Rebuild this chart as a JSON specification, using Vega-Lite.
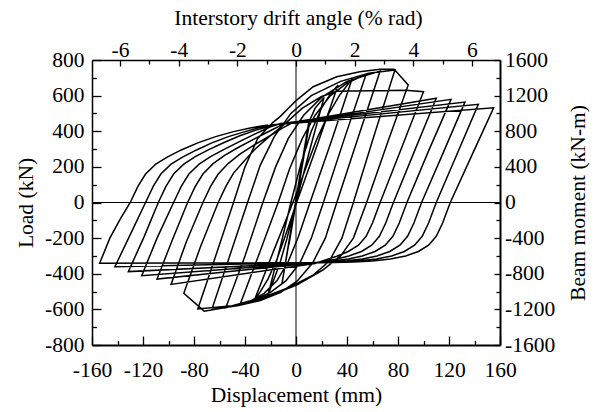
{
  "$schema": "https://vega.github.io/schema/vega-lite/v6.json",
  "width": 408,
  "height": 285,
  "autosize": {"type": "none"},
  "padding": {"left": 92, "top": 60, "right": 96, "bottom": 67},
  "background": "white",
  "config": {
    "font": "Liberation Serif",
    "view": {"stroke": null},
    "axis": {
      "labelFont": "Liberation Serif",
      "titleFont": "Liberation Serif",
      "labelFontSize": 21.5,
      "titleFontSize": 21.5,
      "titleFontWeight": "normal",
      "labelColor": "#000",
      "titleColor": "#000",
      "tickColor": "#000",
      "domainColor": "#000",
      "grid": false,
      "labelFlush": false,
      "labelOverlap": false,
      "labelBound": false,
      "tickWidth": 1.3,
      "format": "d",
      "labelExpr": "replace(datum.label, '−', '-')"
    }
  },
  "datasets": {
    "loop": [
      {"d": 0, "p": 0}, {"d": 5.5, "p": 240}, {"d": -5.5, "p": -235}, {"d": 5.5, "p": 240}, {"d": -5.5, "p": -235},
      {"d": 11, "p": 465}, {"d": -11, "p": -455}, {"d": 10, "p": 450}, {"d": 15, "p": 530}, {"d": 22, "p": 590},
      {"d": 11, "p": 300}, {"d": 0, "p": 0}, {"d": -7, "p": -200}, {"d": -13, "p": -350}, {"d": -22, "p": -520},
      {"d": -12, "p": -240}, {"d": -4, "p": 0}, {"d": 4, "p": 220}, {"d": 12, "p": 400}, {"d": 20, "p": 530}, {"d": 27, "p": 610}, {"d": 33, "p": 660},
      {"d": 17, "p": 330}, {"d": 0.5, "p": 0}, {"d": -8, "p": -180}, {"d": -15, "p": -320}, {"d": -22, "p": -430}, {"d": -28, "p": -500}, {"d": -33, "p": -555},
      {"d": -18, "p": -280}, {"d": -2.4, "p": 0}, {"d": 7, "p": 180}, {"d": 16, "p": 350}, {"d": 25, "p": 490}, {"d": 34, "p": 600}, {"d": 44, "p": 695},
      {"d": 28, "p": 350}, {"d": 11, "p": 0}, {"d": 2, "p": -190}, {"d": -6, "p": -330}, {"d": -15, "p": -440}, {"d": -25, "p": -510}, {"d": -35, "p": -550}, {"d": -44, "p": -575},
      {"d": -29, "p": -290}, {"d": -14, "p": 0}, {"d": -5, "p": 190}, {"d": 5, "p": 360}, {"d": 15, "p": 490}, {"d": 27, "p": 600}, {"d": 40, "p": 670}, {"d": 55, "p": 720},
      {"d": 38, "p": 360}, {"d": 21.5, "p": 0}, {"d": 12, "p": -200}, {"d": 3, "p": -340}, {"d": -8, "p": -440}, {"d": -20, "p": -505}, {"d": -35, "p": -555}, {"d": -55, "p": -590},
      {"d": -40, "p": -300}, {"d": -26, "p": 0}, {"d": -16, "p": 200}, {"d": -6, "p": 360}, {"d": 6, "p": 490}, {"d": 20, "p": 590}, {"d": 40, "p": 680}, {"d": 66, "p": 738},
      {"d": 49, "p": 370}, {"d": 32, "p": 0}, {"d": 23, "p": -200}, {"d": 13, "p": -340}, {"d": 1, "p": -440}, {"d": -12, "p": -505}, {"d": -28, "p": -550}, {"d": -46, "p": -580}, {"d": -66, "p": -600},
      {"d": -52, "p": -300}, {"d": -38, "p": 0}, {"d": -28, "p": 210}, {"d": -17, "p": 370}, {"d": -4, "p": 500}, {"d": 12, "p": 600}, {"d": 35, "p": 680}, {"d": 57, "p": 725}, {"d": 77.6, "p": 744},
      {"d": 61, "p": 370}, {"d": 45, "p": 0}, {"d": 36, "p": -200}, {"d": 26, "p": -330}, {"d": 13, "p": -410}, {"d": -5, "p": -475}, {"d": -25, "p": -530}, {"d": -50, "p": -580}, {"d": -77, "p": -598},
      {"d": -63, "p": -300}, {"d": -49, "p": 0}, {"d": -40, "p": 200}, {"d": -30, "p": 360}, {"d": -18, "p": 450}, {"d": -12.5, "p": 482}, {"d": 0.5, "p": 575}, {"d": 13.5, "p": 650}, {"d": 32, "p": 706}, {"d": 50, "p": 734}, {"d": 66, "p": 748}, {"d": 77, "p": 748}, {"d": 88, "p": 660},
      {"d": 71.5, "p": 330}, {"d": 55.4, "p": 0}, {"d": 45, "p": -200}, {"d": 35, "p": -300}, {"d": 21, "p": -379}, {"d": 0.5, "p": -463}, {"d": -25.6, "p": -538}, {"d": -51.8, "p": -585}, {"d": -72, "p": -610}, {"d": -88, "p": -510},
      {"d": -75, "p": -250}, {"d": -61, "p": 0}, {"d": -55, "p": 90}, {"d": -49, "p": 165}, {"d": -41, "p": 230}, {"d": -32, "p": 300}, {"d": -21, "p": 370}, {"d": -9, "p": 440}, {"d": 5, "p": 530}, {"d": 20, "p": 595}, {"d": 32, "p": 624}, {"d": 86, "p": 630}, {"d": 100, "p": 622},
      {"d": 83, "p": 310}, {"d": 66, "p": 0}, {"d": 60, "p": -115}, {"d": 55, "p": -190}, {"d": 49, "p": -240}, {"d": 41, "p": -275}, {"d": 32, "p": -302}, {"d": 23, "p": -322}, {"d": 15, "p": -342}, {"d": -98, "p": -460},
      {"d": -86, "p": -220}, {"d": -73, "p": 0}, {"d": -67, "p": 90}, {"d": -61, "p": 160}, {"d": -53, "p": 220}, {"d": -44, "p": 272}, {"d": -33, "p": 322}, {"d": -21, "p": 372}, {"d": -10, "p": 420}, {"d": -2, "p": 450}, {"d": 110, "p": 585},
      {"d": 93, "p": 290}, {"d": 76.4, "p": 0}, {"d": 70.4, "p": -115}, {"d": 65.4, "p": -190}, {"d": 59.4, "p": -240}, {"d": 51.4, "p": -275}, {"d": 41.4, "p": -300}, {"d": 31, "p": -318}, {"d": 22, "p": -330}, {"d": 15, "p": -338}, {"d": -109, "p": -430},
      {"d": -97, "p": -210}, {"d": -85, "p": 0}, {"d": -79, "p": 90}, {"d": -73, "p": 160}, {"d": -65, "p": 218}, {"d": -56, "p": 265}, {"d": -45, "p": 310}, {"d": -33, "p": 356}, {"d": -21, "p": 400}, {"d": -10, "p": 440}, {"d": 121.6, "p": 579},
      {"d": 104, "p": 290}, {"d": 87, "p": 0}, {"d": 81, "p": -115}, {"d": 76, "p": -190}, {"d": 70, "p": -240}, {"d": 62, "p": -275}, {"d": 52, "p": -300}, {"d": 41, "p": -317}, {"d": 30, "p": -327}, {"d": 18, "p": -335}, {"d": -121, "p": -411},
      {"d": -109, "p": -200}, {"d": -96, "p": 0}, {"d": -90, "p": 90}, {"d": -84, "p": 160}, {"d": -76, "p": 215}, {"d": -67, "p": 258}, {"d": -56, "p": 300}, {"d": -44, "p": 343}, {"d": -32, "p": 385}, {"d": -20, "p": 425}, {"d": -12, "p": 443}, {"d": 132.5, "p": 564},
      {"d": 115.5, "p": 280}, {"d": 98.5, "p": 0}, {"d": 92.5, "p": -115}, {"d": 87.5, "p": -190}, {"d": 81.5, "p": -240}, {"d": 73.5, "p": -275}, {"d": 63.5, "p": -300}, {"d": 52, "p": -317}, {"d": 40, "p": -327}, {"d": 27, "p": -334}, {"d": 18, "p": -336}, {"d": -131.5, "p": -388},
      {"d": -119, "p": -190}, {"d": -108, "p": 0}, {"d": -102, "p": 90}, {"d": -96, "p": 160}, {"d": -88, "p": 215}, {"d": -79, "p": 258}, {"d": -68, "p": 298}, {"d": -56, "p": 338}, {"d": -44, "p": 375}, {"d": -32, "p": 405}, {"d": -20, "p": 430}, {"d": -14, "p": 440}, {"d": 143, "p": 551},
      {"d": 126.5, "p": 275}, {"d": 110, "p": 0}, {"d": 104, "p": -115}, {"d": 99, "p": -190}, {"d": 93, "p": -240}, {"d": 85, "p": -275}, {"d": 75, "p": -300}, {"d": 63, "p": -317}, {"d": 50, "p": -327}, {"d": 35, "p": -334}, {"d": 20, "p": -337}, {"d": -142, "p": -360},
      {"d": -130, "p": -180}, {"d": -118, "p": 0}, {"d": -112, "p": 90}, {"d": -106, "p": 160}, {"d": -98, "p": 215}, {"d": -89, "p": 255}, {"d": -78, "p": 295}, {"d": -66, "p": 335}, {"d": -53, "p": 370}, {"d": -40, "p": 398}, {"d": -28, "p": 422}, {"d": -18, "p": 436}, {"d": 155, "p": 532},
      {"d": 138, "p": 266}, {"d": 121, "p": 0}, {"d": 115, "p": -115}, {"d": 110, "p": -190}, {"d": 104, "p": -240}, {"d": 96, "p": -275}, {"d": 86, "p": -300}, {"d": 74, "p": -317}, {"d": 60, "p": -328}, {"d": 45, "p": -334}, {"d": 30, "p": -337}, {"d": 20, "p": -338}, {"d": -154, "p": -341},
      {"d": -146, "p": -200}, {"d": -138, "p": -95}, {"d": -130, "p": 0}, {"d": -124, "p": 90}, {"d": -118, "p": 160}, {"d": -110, "p": 215}, {"d": -101, "p": 255}, {"d": -90, "p": 295}, {"d": -77, "p": 335}, {"d": -63, "p": 370}, {"d": -49, "p": 398}, {"d": -35, "p": 420}, {"d": -22, "p": 435}
    ]
  },
  "resolve": {
    "scale": {"x": "independent", "y": "independent"},
    "axis": {"x": "independent", "y": "independent"}
  },
  "layer": [
    {
      "data": {"values": [{}]},
      "mark": {"type": "rule", "color": "#000", "strokeWidth": 1},
      "encoding": {
        "x": {"datum": 0, "type": "quantitative", "scale": {"domain": [-160, 160]}, "axis": null}
      }
    },
    {
      "data": {"values": [{}]},
      "mark": {"type": "rule", "color": "#000", "strokeWidth": 1},
      "encoding": {
        "y": {"datum": 0, "type": "quantitative", "scale": {"domain": [-800, 800]}, "axis": null}
      }
    },
    {
      "data": {"name": "loop"},
      "mark": {"type": "line", "color": "#000", "strokeWidth": 1.5, "strokeJoin": "miter", "clip": true},
      "encoding": {
        "x": {
          "field": "d", "type": "quantitative",
          "scale": {"domain": [-160, 160], "nice": false, "zero": false},
          "axis": {
            "orient": "bottom",
            "values": [-160, -120, -80, -40, 0, 40, 80, 120, 160],
            "tickSize": -9, "labelPadding": 40, "labelBaseline": "alphabetic",
            "domainWidth": 2,
            "title": "Displacement (mm)",
            "titleX": 204, "titleY": 56, "titleAlign": "center", "titleBaseline": "alphabetic"
          }
        },
        "y": {
          "field": "p", "type": "quantitative",
          "scale": {"domain": [-800, 800], "nice": false, "zero": false},
          "axis": {
            "orient": "left",
            "values": [-800, -600, -400, -200, 0, 200, 400, 600, 800],
            "tickSize": -9, "labelPadding": 17, "labelBaseline": "middle",
            "domainWidth": 1.5,
            "title": "Load (kN)",
            "titleAngle": 270, "titleX": -60, "titleY": 142.5, "titleAlign": "center", "titleBaseline": "alphabetic"
          }
        },
        "order": {"value": null}
      }
    },
    {
      "data": {"values": [{"d": 0, "p": 0}]},
      "mark": {"type": "point", "opacity": 0},
      "encoding": {
        "x": {
          "field": "d", "type": "quantitative",
          "scale": {"domain": [-160, 160], "nice": false, "zero": false},
          "axis": {"orient": "bottom", "values": [-140, -100, -60, -20, 20, 60, 100, 140], "tickSize": -4.5, "labels": false, "domain": false, "title": null}
        },
        "y": {
          "field": "p", "type": "quantitative",
          "scale": {"domain": [-800, 800], "nice": false, "zero": false},
          "axis": {"orient": "left", "values": [-700, -500, -300, -100, 100, 300, 500, 700], "tickSize": -4.5, "labels": false, "domain": false, "title": null}
        }
      }
    },
    {
      "data": {"values": [{"dr": 0, "bm": 0}]},
      "mark": {"type": "point", "opacity": 0},
      "encoding": {
        "x": {
          "field": "dr", "type": "quantitative",
          "scale": {"domain": [-6.955, 6.955], "nice": false, "zero": false},
          "axis": {
            "orient": "top",
            "values": [-6, -4, -2, 0, 2, 4, 6],
            "tickSize": -6, "labelPadding": 9.5, "labelBaseline": "alphabetic",
            "domainWidth": 1.5,
            "title": "Interstory drift angle (% rad)",
            "titleX": 206, "titleY": -36, "titleAlign": "center", "titleBaseline": "alphabetic"
          }
        },
        "y": {
          "field": "bm", "type": "quantitative",
          "scale": {"domain": [-1600, 1600], "nice": false, "zero": false},
          "axis": {
            "orient": "right",
            "values": [-1600, -1200, -800, -400, 0, 400, 800, 1200, 1600],
            "tickSize": -6, "labelPadding": 10.5, "labelBaseline": "middle",
            "domainWidth": 2,
            "title": "Beam moment (kN-m)",
            "titleAngle": 270, "titleX": 84, "titleY": 142.5, "titleAlign": "center", "titleBaseline": "alphabetic"
          }
        }
      }
    },
    {
      "data": {"values": [{"dr": 0, "bm": 0}]},
      "mark": {"type": "point", "opacity": 0},
      "encoding": {
        "x": {
          "field": "dr", "type": "quantitative",
          "scale": {"domain": [-6.955, 6.955], "nice": false, "zero": false},
          "axis": {"orient": "top", "values": [-5, -3, -1, 1, 3, 5], "tickSize": -4, "labels": false, "domain": false, "title": null}
        },
        "y": {
          "field": "bm", "type": "quantitative",
          "scale": {"domain": [-1600, 1600], "nice": false, "zero": false},
          "axis": {"orient": "right", "values": [-1400, -1000, -600, -200, 200, 600, 1000, 1400], "tickSize": -4, "labels": false, "domain": false, "title": null}
        }
      }
    }
  ]
}
